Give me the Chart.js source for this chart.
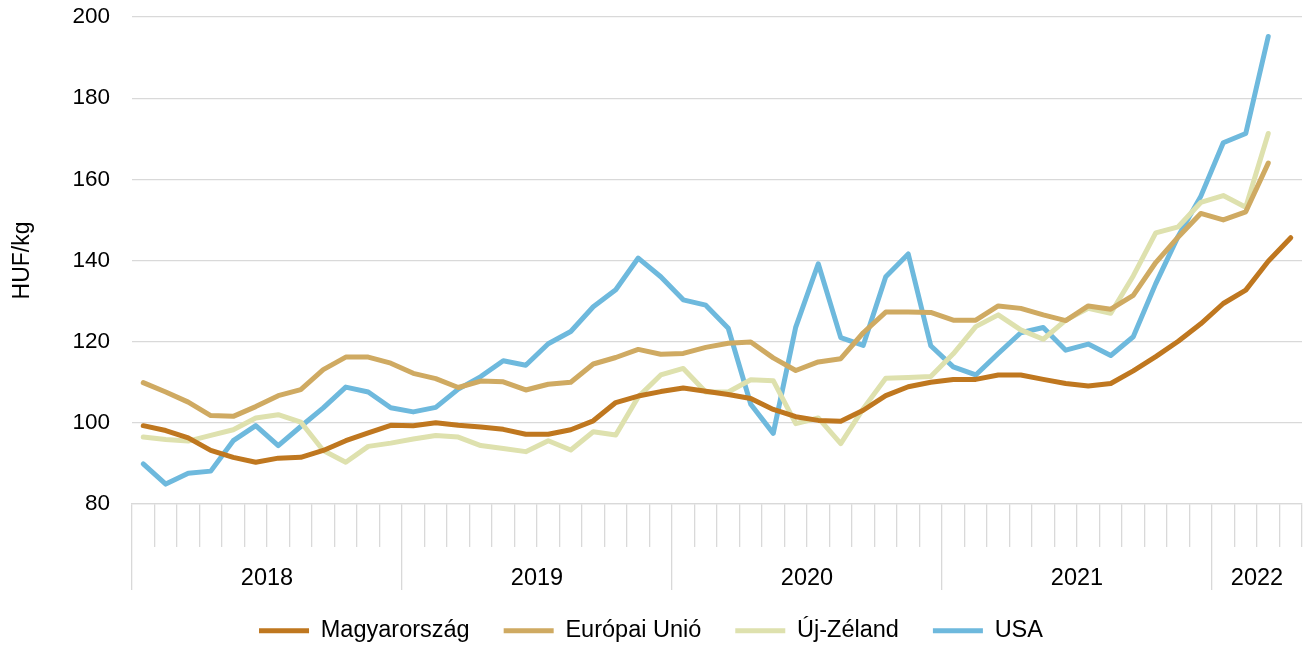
<!DOCTYPE html>
<html>
<head>
<meta charset="utf-8">
<script src="https://cdn.jsdelivr.net/npm/chart.js@4.4.1/dist/chart.umd.min.js"></script>
<style>
html,body{margin:0;padding:0;background:#ffffff;}
#wrap{width:1309px;height:645px;position:relative;}
</style>
</head>
<body>
<div id="wrap"><canvas id="c"></canvas></div>
<script>
// ---- data ----
const years = ['2018', '2019', '2020', '2021', '2022'];
const monthsPerYear = [12, 12, 12, 12, 4];
const seriesNames = ['Magyarország', 'Európai Unió', 'Új-Zéland', 'USA'];
const yTicks = [80, 100, 120, 140, 160, 180, 200];
const yTitle = 'HUF/kg';

const magyarorszag = [99.3, 98.1, 96.3, 93.2, 91.5, 90.3, 91.3, 91.5, 93.2, 95.6, 97.5,
  99.4, 99.3, 100.0, 99.4, 99.0, 98.4, 97.2, 97.2, 98.3, 100.5,
  105.0, 106.6, 107.7, 108.6, 107.8, 107.0, 106.0, 103.3, 101.5, 100.6,
  100.4, 103.1, 106.7, 108.9, 110.0, 110.7, 110.7, 111.8, 111.8, 110.7,
  109.7, 109.1, 109.7, 112.8, 116.3, 120.1, 124.4, 129.4, 132.7, 139.8, 145.6];
const europaiUnio = [109.9, 107.6, 105.1, 101.8, 101.6, 104.0, 106.7, 108.2, 113.1, 116.2, 116.2,
  114.7, 112.2, 110.9, 108.7, 110.3, 110.1, 108.1, 109.5, 110.0, 114.5,
  116.1, 118.1, 116.9, 117.1, 118.6, 119.6, 119.9, 116.0, 112.9, 115.0,
  115.8, 122.2, 127.3, 127.3, 127.2, 125.3, 125.3, 128.8, 128.2, 126.6,
  125.2, 128.8, 128.0, 131.4, 139.5, 145.8, 151.6, 150.0, 152.0, 164.0, null];
const ujZeland = [96.5, 95.9, 95.5, 96.9, 98.3, 101.2, 102.0, 100.2, 93.2, 90.3, 94.2,
  95.0, 96.0, 96.9, 96.5, 94.4, 93.7, 92.9, 95.6, 93.3, 97.8,
  97.0, 106.4, 111.8, 113.4, 107.6, 107.6, 110.6, 110.4, 99.8, 101.2,
  94.9, 103.5, 111.0, 111.2, 111.4, 117.0, 123.7, 126.6, 122.9, 120.6,
  125.3, 128.2, 127.0, 136.2, 146.8, 148.3, 154.3, 156.0, 153.1, 171.3, null];
const usa = [89.9, 84.9, 87.6, 88.1, 95.6, 99.3, 94.4, 99.1, 103.7, 108.8, 107.6,
  103.7, 102.7, 103.8, 108.3, 111.4, 115.3, 114.2, 119.5, 122.5, 128.6,
  132.8, 140.6, 136.0, 130.3, 129.0, 123.3, 104.6, 97.4, 123.6, 139.2,
  121.0, 119.1, 136.0, 141.6, 119.0, 113.8, 111.8, 117.1, 122.2, 123.5,
  117.9, 119.4, 116.6, 121.2, 134.3, 146.0, 155.8, 169.0, 171.3, 195.2, null];

// ---- derived category labels ----
const labels = [];
const yearStart = [];
const yearLabelIndex = {};
years.forEach((y, k) => {
  yearStart.push(labels.length);
  yearLabelIndex[labels.length + Math.floor(monthsPerYear[k] / 2) - 1] = y;
  for (let m = 1; m <= monthsPerYear[k]; m++) labels.push(y + '-' + String(m).padStart(2, '0'));
});
const boundaryIdx = new Set([...yearStart, labels.length]);

const colors = ['#BF771F', '#CFAA62', '#DEE1AE', '#6EB9DD'];
const values = [magyarorszag, europaiUnio, ujZeland, usa];

const FAMILY = "'Liberation Sans', Arial, sans-serif";
const FONT = {family: FAMILY, size: 23.5};
const FONT_Y = {family: FAMILY, size: 22.5};
const TXT = '#000000';
const GRID = '#d9d9d9';

new Chart(document.getElementById('c'), {
  type: 'line',
  data: {
    labels: labels,
    datasets: seriesNames.map((n, i) => ({
      label: n,
      data: values[i],
      borderColor: colors[i],
      backgroundColor: colors[i],
      borderWidth: 5,
      borderCapStyle: 'round',
      borderJoinStyle: 'round',
      pointRadius: 0,
      tension: 0,
      fill: false,
      spanGaps: false
    }))
  },
  options: {
    responsive: true,
    maintainAspectRatio: false,
    animation: false,
    layout: {padding: {left: 0, right: 7, top: 17, bottom: 0}},
    plugins: {
      legend: {
        position: 'bottom',
        maxHeight: 60,
        labels: {
          usePointStyle: true,
          pointStyle: 'line',
          pointStyleWidth: 50,
          padding: 34,
          font: FONT,
          color: TXT
        }
      },
      tooltip: {enabled: false}
    },
    scales: {
      x: {
        type: 'category',
        offset: true,
        grid: {offset: true, drawOnChartArea: false, tickLength: 43, color: GRID, lineWidth: 1.3},
        border: {display: true, color: GRID, width: 1.3},
        ticks: {display: false, autoSkip: false, maxRotation: 0, minRotation: 0}
      },
      x2: {
        type: 'category',
        labels: labels,
        position: 'bottom',
        offset: true,
        grid: {
          offset: true,
          drawOnChartArea: false,
          tickLength: 43,
          lineWidth: 1.3,
          color: (c) => boundaryIdx.has(c.index) ? GRID : 'rgba(0,0,0,0)'
        },
        border: {display: false},
        ticks: {
          autoSkip: false,
          maxRotation: 0,
          minRotation: 0,
          padding: -26,
          labelOffset: 11.25,
          font: FONT,
          color: TXT,
          callback: (v, i) => yearLabelIndex[i] || ''
        },
        afterFit: (s) => { s.height = 38; }
      },
      y: {
        min: 80,
        max: 200,
        afterBuildTicks: (s) => { s.ticks = yTicks.map(v => ({value: v})); },
        ticks: {padding: 22, font: FONT_Y, color: TXT},
        grid: {color: GRID, lineWidth: 1.3, drawTicks: false},
        border: {display: false},
        title: {display: true, text: yTitle, font: {family: FAMILY, size: 23}, color: TXT, padding: {top: 9, bottom: 0}},
        afterFit: (s) => { s.width = 132; s.paddingTop = 0; s.paddingBottom = 0; }
      }
    }
  }
});
</script>
</body>
</html>
